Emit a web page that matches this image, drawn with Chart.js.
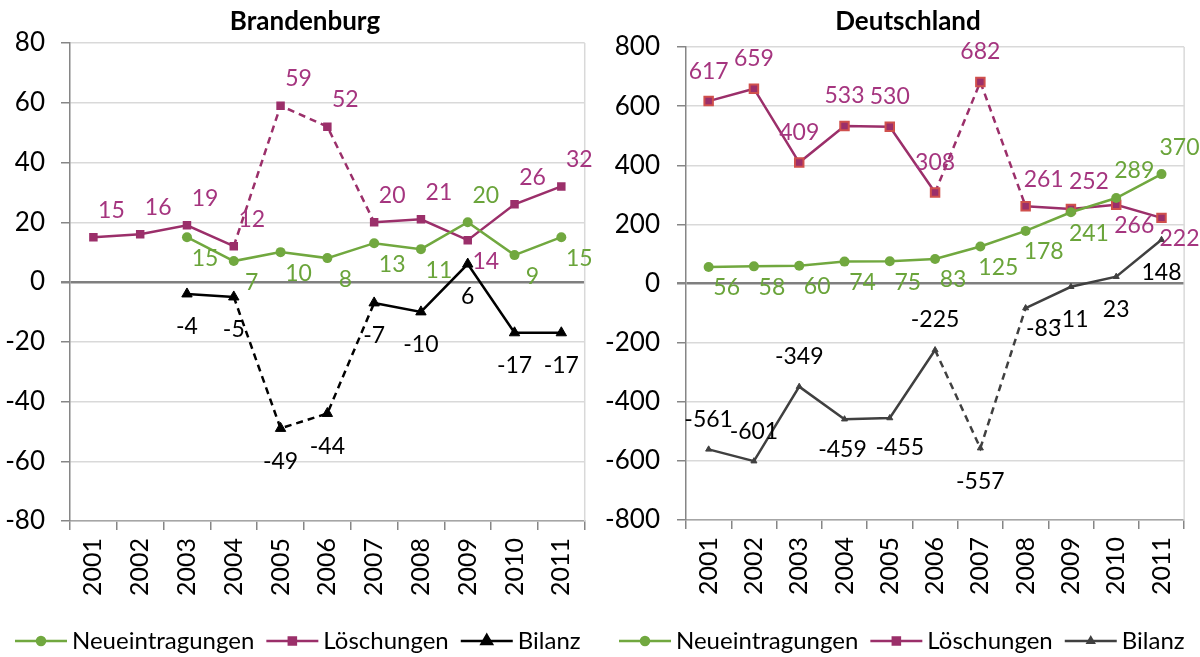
<!DOCTYPE html>
<html>
<head>
<meta charset="utf-8">
<script src="https://cdn.jsdelivr.net/npm/chart.js@4"></script>
<style>
  body { margin: 0; background: #fff; }
  #wrap { position: relative; width: 1200px; height: 657px; }
  canvas { position: absolute; top: 0; }
  #cBB { left: 0; }
  #cDE { left: 600px; }
</style>
</head>
<body>
<div id="wrap">
  <canvas id="cBB" width="600" height="657"></canvas>
  <canvas id="cDE" width="600" height="657"></canvas>
</div>
<script>
const years = ['2001','2002','2003','2004','2005','2006','2007','2008','2009','2010','2011'];

// Brandenburg
const bbNeu = [null, null, 15, 7, 10, 8, 13, 11, 20, 9, 15];
const bbLoe = [15, 16, 19, 12, 59, 52, 20, 21, 14, 26, 32];
const bbBil = [null, null, -4, -5, -49, -44, -7, -10, 6, -17, -17];

// Deutschland
const deNeu = [56, 58, 60, 74, 75, 83, 125, 178, 241, 289, 370];
const deLoe = [617, 659, 409, 533, 530, 308, 682, 261, 252, 266, 222];
const deBil = [-561, -601, -349, -459, -455, -225, -557, -83, -11, 23, 148];

// where each value label sits relative to its point (a = above, b = below, ar/br = right)
const bbNeuPos = ['br','br','br','br','br','br','br','br','ar','br','br'];
const bbLoePos = ['ar','ar','ar','ar','ar','ar','ar','ar','br','ar','ar'];
const bbBilPos = ['b','b','b','b','b','b','b','b','b','b','b'];
const deNeuPos = ['br','br','br','br','br','br','br','br','br','ar','ar'];
const deLoePos = ['a','a','a','a','a','a','a','ar','ar','br','br'];
const deBilPos = ['a','a','a','bl','bs','a','b','br','b','b','b'];

const offsets = { a: [0, -30], b: [0, 33], bl: [-2, 30], bs: [10, 30], ar: [18, -27], br: [18, 21] };

const FONT = 'Lato, "Open Sans", sans-serif';
const GREEN = '#71a83f', GREEN_TXT = '#6aa43a';
const PURPLE = '#9b2f6a', PURPLE_TXT = '#a5357f';

const valueLabels = {
  id: 'valueLabels',
  afterDatasetsDraw(chart) {
    const ctx = chart.ctx;
    ctx.save();
    ctx.font = '23px ' + FONT;
    ctx.textAlign = 'center';
    ctx.textBaseline = 'middle';
    chart.data.datasets.forEach((ds, i) => {
      const meta = chart.getDatasetMeta(i);
      meta.data.forEach((pt, j) => {
        const v = ds.data[j];
        if (v === null) return;
        const o = offsets[ds.labelPos[j]];
        ctx.fillStyle = ds.labelColor;
        ctx.fillText(String(v), pt.x + o[0], pt.y + o[1]);
      });
    });
    ctx.restore();
  }
};

const frame = {
  id: 'frame',
  beforeDatasetsDraw(chart) {
    const { ctx, chartArea } = chart;
    ctx.save();
    ctx.strokeStyle = '#d9d9d9';
    ctx.lineWidth = 1.5;
    ctx.beginPath();
    ctx.moveTo(chartArea.right, chartArea.top);
    ctx.lineTo(chartArea.right, chartArea.bottom);
    ctx.stroke();
    ctx.restore();
  },
  afterDraw(chart) {
    const ctx = chart.ctx;
    const o = chart.options.plugins.frame;
    ctx.save();
    // title
    ctx.font = 'bold 26px ' + FONT;
    ctx.fillStyle = '#000';
    ctx.textAlign = 'center';
    ctx.textBaseline = 'middle';
    ctx.fillText(o.title, o.titleX, 22);
    // legend
    ctx.font = '24px ' + FONT;
    ctx.textAlign = 'left';
    let x = o.legendX;
    const y = 641;
    chart.data.datasets.forEach(ds => {
      ctx.strokeStyle = ds.borderColor;
      ctx.lineWidth = 2.5;
      ctx.setLineDash([]);
      ctx.beginPath();
      ctx.moveTo(x, y);
      ctx.lineTo(x + 52, y);
      ctx.stroke();
      Chart.helpers.drawPoint(ctx, {
        pointStyle: ds.pointStyle, radius: ds.legendRadius, rotation: 0, borderWidth: 1
      }, x + 26, y);
      ctx.fillStyle = ds.borderColor;
      ctx.fill();
      ctx.fillStyle = '#000';
      ctx.fillText(ds.label, x + 57, y);
      x += 57 + ctx.measureText(ds.label).width + 12;
    });
    ctx.restore();
  }
};

function makeChart(id, p) {
  const dashed = ctx => p.dashed.includes(ctx.p0DataIndex) ? [7, 5] : undefined;
  return new Chart(document.getElementById(id), {
    type: 'line',
    data: {
      labels: years,
      datasets: [
        {
          label: 'Neueintragungen', data: p.neu, labelPos: p.neuPos, labelColor: GREEN_TXT,
          borderColor: GREEN, backgroundColor: GREEN, borderWidth: 2.5,
          pointStyle: 'circle', pointRadius: 5, legendRadius: 4, pointBorderWidth: 0
        },
        {
          label: 'Löschungen', data: p.loe, labelPos: p.loePos, labelColor: PURPLE_TXT,
          borderColor: PURPLE, backgroundColor: PURPLE, borderWidth: 2.5,
          pointStyle: 'rect', pointRadius: 6, legendRadius: 5,
          pointBorderColor: p.rectBorder, pointBorderWidth: p.rectBorderWidth,
          segment: { borderDash: dashed }
        },
        {
          label: 'Bilanz', data: p.bil, labelPos: p.bilPos, labelColor: '#000',
          borderColor: p.bilColor, backgroundColor: p.bilColor, borderWidth: 2.5,
          pointStyle: 'triangle', pointRadius: p.triRadius, legendRadius: p.triRadius,
          pointBorderWidth: 1, segment: { borderDash: dashed }
        }
      ]
    },
    options: {
      responsive: false,
      animation: false,
      layout: { padding: { top: p.top, right: p.right, bottom: 40, left: 0 } },
      plugins: {
        legend: { display: false },
        tooltip: { enabled: false },
        frame: { title: p.title, titleX: p.titleX, legendX: p.legendX }
      },
      scales: {
        x: {
          offset: true,
          grid: { offset: true, drawOnChartArea: false, drawTicks: true, tickLength: 9,
                  tickColor: '#868686', lineWidth: 1.5 },
          border: { color: '#a6a6a6', width: 1.5 },
          ticks: { color: '#000', font: { family: FONT, size: 25 },
                   minRotation: 90, maxRotation: 90, padding: 8, autoSkip: false },
          afterFit: s => { s.height = 657 - 40 - p.bottom; }
        },
        y: {
          min: p.min, max: p.max,
          grid: {
            color: c => c.tick && c.tick.value === 0 ? '#7f7f7f' : '#d9d9d9',
            lineWidth: c => c.tick && c.tick.value === 0 ? 2.5 : 1.5,
            tickColor: '#868686', tickLength: 9
          },
          border: { color: '#868686', width: 1.5 },
          ticks: {
            stepSize: p.step, padding: p.pad, color: '#000',
            font: { family: FONT, size: 26 },
            callback: v => (v % (p.step * 2) === 0 ? String(v) : '')
          },
          afterFit: s => { s.width = p.yWidth; }
        }
      }
    },
    plugins: [frame, valueLabels]
  });
}

makeChart('cBB', {
  title: 'Brandenburg', titleX: 305, legendX: 15,
  neu: bbNeu, loe: bbLoe, bil: bbBil,
  neuPos: bbNeuPos, loePos: bbLoePos, bilPos: bbBilPos,
  dashed: [3, 4, 5],
  min: -80, max: 80, step: 10, pad: 16, yWidth: 70,
  top: 43, bottom: 521, right: 15,
  rectBorder: PURPLE, rectBorderWidth: 0,
  bilColor: '#000', triRadius: 6
});

makeChart('cDE', {
  title: 'Deutschland', titleX: 308, legendX: 19,
  neu: deNeu, loe: deLoe, bil: deBil,
  neuPos: deNeuPos, loePos: deLoePos, bilPos: deBilPos,
  dashed: [5, 6],
  min: -800, max: 800, step: 100, pad: 17, yWidth: 86,
  top: 47, bottom: 520, right: 11,
  rectBorder: '#d0504d', rectBorderWidth: 2,
  bilColor: '#404040', triRadius: 3.5
});
</script>
</body>
</html>
